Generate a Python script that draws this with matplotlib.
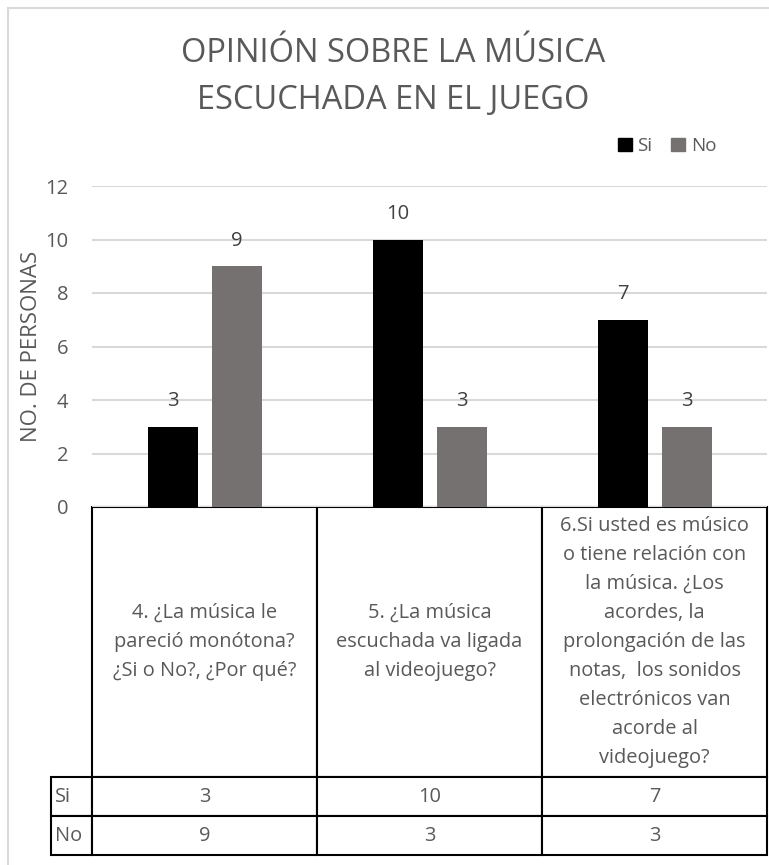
import numpy as np
import matplotlib
matplotlib.use('Agg')
import matplotlib.pyplot as plt
from matplotlib.patches import Rectangle, Patch

plt.rcParams['font.family'] = ['Open Sans', 'DejaVu Sans']

#%% datos
preguntas = ['4. ¿La música le\npareció monótona?\n¿Si o No?, ¿Por qué?',
             '5. ¿La música\nescuchada va ligada\nal videojuego?',
             '6.Si usted es músico\no tiene relación con\nla música. ¿Los\nacordes, la\n'
             'prolongación de las\nnotas,  los sonidos\nelectrónicos van\nacorde al\nvideojuego?']
series = ['Si', 'No']
si = [3, 10, 7]
no = [9, 3, 3]
yticks = [0, 2, 4, 6, 8, 10, 12]

#%% figura
W, H = 769, 865
fig = plt.figure(figsize=(W / 100, H / 100), dpi=100)

def px(x0, y0, x1, y1):
    # caja en pixeles (desde arriba) -> coordenadas de figura
    return [x0 / W, 1 - y1 / H, (x1 - x0) / W, (y1 - y0) / H]

# borde exterior del grafico
fig.patches.append(Rectangle((8 / W, -0.01), 1.0, 1 - 8 / H + 0.01, transform=fig.transFigure,
                             fill=False, edgecolor='#d9d9d9', linewidth=1.5))

ax = fig.add_axes(px(92, 186, 767, 507))

gris_txt = '#595959'
x = np.arange(len(preguntas))
ancho = 50 / 225
desp = 32 / 225

b1 = ax.bar(x - desp, si, ancho, color='#000000', label=series[0], zorder=3)
b2 = ax.bar(x + desp, no, ancho, color='#767171', label=series[1], zorder=3)
ax.bar_label(b1, padding=11, fontsize=14.5, color='#404040')
ax.bar_label(b2, padding=11, fontsize=14.5, color='#404040')

ax.set_xlim(-0.5, len(preguntas) - 0.5)
ax.set_ylim(0, 12)
ax.set_yticks(yticks)
ax.set_xticks([])
ax.tick_params(axis='y', length=0, pad=17, labelsize=14.5, labelcolor=gris_txt)
ax.grid(axis='y', color='#d9d9d9', linewidth=1.5, zorder=0)
for s in ax.spines.values():
    s.set_visible(False)
ax.set_ylabel('NO. DE PERSONAS', fontsize=16, color=gris_txt)
ax.yaxis.set_label_coords(-50 / 675, 0.5)

# tabla de datos (primera columna = nombre de la serie)
celdas = [[series[0]] + [str(v) for v in si],
          [series[1]] + [str(v) for v in no]]
tabla = ax.table(cellText=celdas, colLabels=[''] + preguntas,
                 cellLoc='center', colLoc='center',
                 colWidths=[41 / 716] + [225 / 716] * 3,
                 bbox=[-41 / 675, -348 / 321, 716 / 675, 348 / 321])
tabla.auto_set_font_size(False)
tabla.set_fontsize(14.4)
for (r, c), cel in tabla.get_celld().items():
    cel.set_edgecolor('black')
    cel.set_linewidth(1.5)
    cel.get_text().set_color(gris_txt)
    cel.set_height(271 if r == 0 else 39)
    if r == 0:
        cel.get_text().set_linespacing(1.6)
    if c == 0:
        cel.get_text().set_ha('left')
        if r == 0:
            cel.set_visible(False)

# leyenda
ax.legend(handles=[Patch(color='#000000', label='Si'), Patch(color='#767171', label='No')],
          loc='center', bbox_to_anchor=(667 / W, 1 - 146 / H), bbox_transform=fig.transFigure,
          ncol=2, frameon=False, fontsize=13.5, handlelength=0.75, handleheight=0.75,
          handletextpad=0.3, columnspacing=1.0, labelcolor=gris_txt)

# titulo
fig.text(393 / W, 1 - 77 / H, 'OPINIÓN SOBRE LA MÚSICA\nESCUCHADA EN EL JUEGO',
         ha='center', va='center', fontsize=23.5, color=gris_txt, linespacing=1.55)

fig.savefig('out.png', dpi=100)
